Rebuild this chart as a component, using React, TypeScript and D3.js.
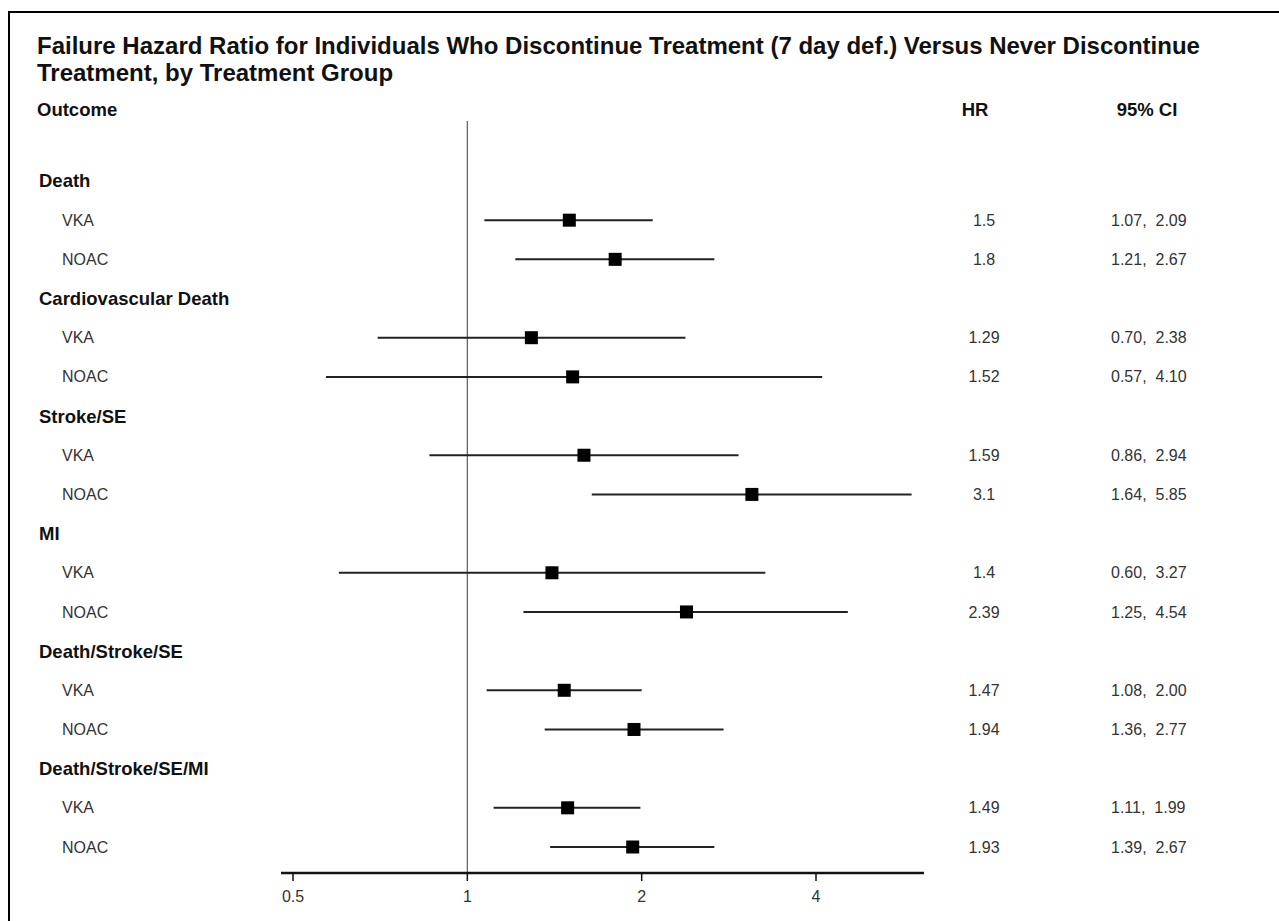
import React from "react";
import * as d3 from "d3";

// forest plot data
const groups = [
  "Death",
  "Cardiovascular Death",
  "Stroke/SE",
  "MI",
  "Death/Stroke/SE",
  "Death/Stroke/SE/MI",
];
const treatments = ["VKA", "NOAC"];
const hr = [1.5, 1.8, 1.29, 1.52, 1.59, 3.1, 1.4, 2.39, 1.47, 1.94, 1.49, 1.93];
const lower = [1.07, 1.21, 0.7, 0.57, 0.86, 1.64, 0.6, 1.25, 1.08, 1.36, 1.11, 1.39];
const upper = [2.09, 2.67, 2.38, 4.1, 2.94, 5.85, 3.27, 4.54, 2.0, 2.77, 1.99, 2.67];
const hrText = ["1.5", "1.8", "1.29", "1.52", "1.59", "3.1", "1.4", "2.39", "1.47", "1.94", "1.49", "1.93"];
const tickValues = [0.5, 1, 2, 4];

const title1 =
  "Failure Hazard Ratio for Individuals Who Discontinue Treatment (7 day def.) Versus Never Discontinue";
const title2 = "Treatment, by Treatment Group";

const W = 1279;
const H = 921;
const font = "'Liberation Sans', Arial, sans-serif";

export default function App() {
  // one row per group header, then one per treatment
  const rows: { key: string; label: string; header: boolean; i: number }[] = [];
  let k = 0;
  groups.forEach((g) => {
    rows.push({ key: g, label: g, header: true, i: -1 });
    treatments.forEach((t) => {
      rows.push({ key: g + "|" + t, label: t, header: false, i: k });
      k++;
    });
  });

  const y = d3
    .scalePoint()
    .domain(rows.map((r) => r.key))
    .range([181, 847]);

  const x = d3.scaleLog().domain([0.5, 4]).range([293, 816]);

  const axisY = 873;
  const axisX0 = 281;
  const axisX1 = 924;

  return (
    <svg
      width={W}
      height={H}
      style={{ position: "absolute", left: 0, top: 0, background: "#fff" }}
      fontFamily={font}
    >
      <rect x={9} y={12} width={W + 10} height={H + 10} fill="#fff" stroke="#000" strokeWidth={2} />

      <text x={37} y={54} fontSize={24} fontWeight="bold" fill="#111">
        {title1}
      </text>
      <text x={37} y={81} fontSize={24} fontWeight="bold" fill="#111">
        {title2}
      </text>

      <text x={37} y={116} fontSize={18.5} fontWeight="bold" fill="#111">
        Outcome
      </text>
      <text x={975} y={116} fontSize={18.5} fontWeight="bold" fill="#111" textAnchor="middle">
        HR
      </text>
      <text x={1147} y={116} fontSize={18.5} fontWeight="bold" fill="#111" textAnchor="middle">
        95% CI
      </text>

      {/* reference line at HR = 1 */}
      <line x1={x(1)} x2={x(1)} y1={121} y2={axisY} stroke="#666" strokeWidth={1.3} />

      {rows.map((r) => {
        const yy = y(r.key) as number;
        if (r.header) {
          return (
            <text key={r.key} x={39} y={yy} dy="0.35em" fontSize={18.5} fontWeight="bold" fill="#111">
              {r.label}
            </text>
          );
        }
        const i = r.i;
        return (
          <g key={r.key}>
            <text x={62} y={yy} dy="0.35em" fontSize={16} fill="#333">
              {r.label}
            </text>
            <line x1={x(lower[i])} x2={x(upper[i])} y1={yy} y2={yy} stroke="#222" strokeWidth={2} />
            <rect x={x(hr[i]) - 6.5} y={yy - 6.5} width={13} height={13} fill="#000" />
            <text x={984} y={yy} dy="0.35em" fontSize={16} fill="#333" textAnchor="middle">
              {hrText[i]}
            </text>
            <text x={1111} y={yy} dy="0.35em" fontSize={16} fill="#333" style={{ whiteSpace: "pre" }}>
              {lower[i].toFixed(2) + ",  " + upper[i].toFixed(2)}
            </text>
          </g>
        );
      })}

      {/* x axis */}
      <line x1={axisX0} x2={axisX1} y1={axisY} y2={axisY} stroke="#111" strokeWidth={2.5} />
      {tickValues.map((t) => (
        <g key={t} transform={`translate(${x(t)},${axisY})`}>
          <line y1={0} y2={8} stroke="#111" strokeWidth={1.5} />
          <text y={23} dy="0.35em" fontSize={16} fill="#333" textAnchor="middle">
            {String(t)}
          </text>
        </g>
      ))}
    </svg>
  );
}
